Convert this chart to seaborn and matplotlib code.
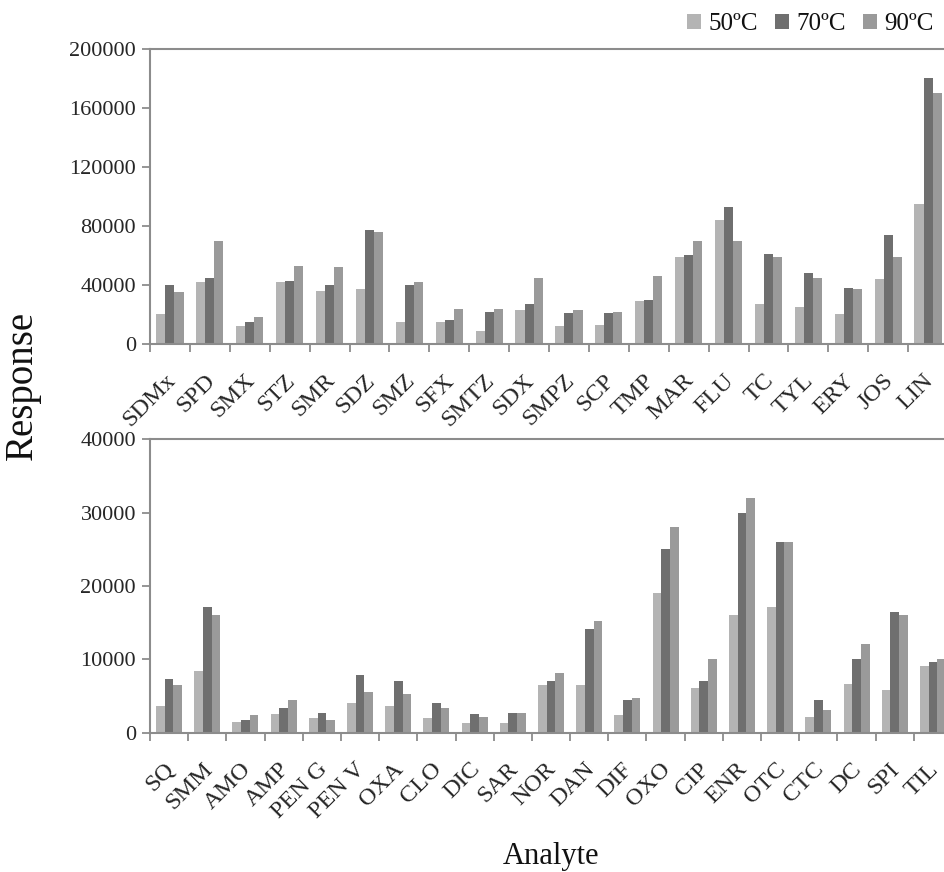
import matplotlib
matplotlib.use("Agg")
import matplotlib.pyplot as plt
import matplotlib.transforms as mtransforms
from matplotlib.patches import Patch
from matplotlib.ticker import FixedLocator, NullFormatter
import seaborn as sns
import pandas as pd

# ---------------- data ----------------
temps = ["50ºC", "70ºC", "90ºC"]

top_analytes = ["SDMx", "SPD", "SMX", "STZ", "SMR", "SDZ", "SMZ", "SFX", "SMTZ", "SDX",
                "SMPZ", "SCP", "TMP", "MAR", "FLU", "TC", "TYL", "ERY", "JOS", "LIN"]
top_50 = [20000, 42000, 12000, 42000, 36000, 37000, 15000, 15000, 9000, 23000,
          12000, 13000, 29000, 59000, 84000, 27000, 25000, 20000, 44000, 95000]
top_70 = [40000, 45000, 15000, 43000, 40000, 77000, 40000, 16000, 22000, 27000,
          21000, 21000, 30000, 60000, 93000, 61000, 48000, 38000, 74000, 180000]
top_90 = [35000, 70000, 18000, 53000, 52000, 76000, 42000, 24000, 24000, 45000,
          23000, 22000, 46000, 70000, 70000, 59000, 45000, 37000, 59000, 170000]

bot_analytes = ["SQ", "SMM", "AMO", "AMP", "PEN G", "PEN V", "OXA", "CLO", "DIC", "SAR",
                "NOR", "DAN", "DIF", "OXO", "CIP", "ENR", "OTC", "CTC", "DC", "SPI", "TIL"]
bot_50 = [3600, 8400, 1500, 2500, 2000, 4000, 3600, 2000, 1300, 1300,
          6500, 6500, 2400, 19000, 6100, 16100, 17200, 2100, 6700, 5800, 9100]
bot_70 = [7300, 17200, 1700, 3300, 2700, 7800, 7000, 4100, 2500, 2700,
          7100, 14100, 4400, 25000, 7000, 30000, 26000, 4400, 10100, 16500, 9600]
bot_90 = [6500, 16100, 2400, 4400, 1700, 5600, 5300, 3300, 2100, 2700,
          8100, 15200, 4700, 28000, 10100, 32000, 26000, 3100, 12100, 16100, 10100]

top_yticks = [0, 40000, 80000, 120000, 160000, 200000]
bot_yticks = [0, 10000, 20000, 30000, 40000]

colors = ["#b4b4b4", "#6f6f6f", "#9a9a9a"]


def long_df(analytes, series):
    rows = []
    for t, vals in zip(temps, series):
        for a, v in zip(analytes, vals):
            rows.append({"Analyte": a, "Temp": t, "Response": v})
    return pd.DataFrame(rows)


df_top = long_df(top_analytes, [top_50, top_70, top_90])
df_bot = long_df(bot_analytes, [bot_50, bot_70, bot_90])

# ---------------- style ----------------
sns.set_theme(style="white")
plt.rcParams["font.family"] = ["Liberation Serif", "DejaVu Serif"]
plt.rcParams["text.color"] = "#111111"

W, H = 944, 872
fig = plt.figure(figsize=(W / 100, H / 100), dpi=100)

# axes rectangles in pixels: (left, top, right, bottom)
def add_axes_px(l, t, r, b):
    return fig.add_axes([l / W, 1 - b / H, (r - l) / W, (b - t) / H])

ax_top = add_axes_px(150, 48.7, 948, 344)
ax_bot = add_axes_px(150, 439.3, 952, 732.7)

spine_col = "#8c8c8c"

for ax, df, analytes, yticks in [(ax_top, df_top, top_analytes, top_yticks),
                                 (ax_bot, df_bot, bot_analytes, bot_yticks)]:
    sns.barplot(data=df, x="Analyte", y="Response", hue="Temp", order=analytes,
                hue_order=temps, palette=colors, width=0.68, saturation=1,
                errorbar=None, linewidth=0, ax=ax, legend=False)
    n = len(analytes)
    ax.set_xlim(-0.5, n - 0.5)
    ax.set_ylim(yticks[0], yticks[-1])
    ax.set_yticks(yticks)
    ax.set_yticklabels([str(v) for v in yticks], fontsize=16)
    ax.set_xlabel("")
    ax.set_ylabel("")
    for s in ax.spines.values():
        s.set_color(spine_col)
        s.set_linewidth(1.5)
        s.set_visible(True)
    ax.tick_params(axis="y", direction="out", length=6, width=1.3, color=spine_col,
                   left=True, pad=4)
    # category labels (no marks) and boundary marks (minor)
    ax.set_xticks(range(n))
    ax.set_xticklabels(analytes, fontsize=17.5, rotation=45, ha="right", va="center",
                       rotation_mode="anchor")
    ax.xaxis.set_minor_locator(FixedLocator([i - 0.5 for i in range(n + 1)]))
    ax.xaxis.set_minor_formatter(NullFormatter())
    ax.tick_params(axis="x", which="major", length=0, pad=24)
    ax.tick_params(axis="x", which="minor", direction="out", length=6, width=1.3,
                   color=spine_col, bottom=True)
    offset = mtransforms.ScaledTranslation(2 / 100, 0, fig.dpi_scale_trans)
    for lab in ax.get_xticklabels():
        lab.set_transform(lab.get_transform() + offset)

# legend
handles = [Patch(facecolor=c, edgecolor="none", label=t) for c, t in zip(colors, temps)]
fig.legend(handles=handles, loc="upper right", bbox_to_anchor=(944 / W, 1 - 3 / H),
           ncol=3, frameon=False, fontsize=18, handlelength=0.55, handleheight=0.55,
           handletextpad=0.3, columnspacing=0.7, borderaxespad=0)

fig.text(22 / W, 1 - 385 / H, "Response", rotation=90, ha="center", va="center",
         fontsize=28)
fig.text(551 / W, 1 - 856 / H, "Analyte", ha="center", va="center", fontsize=22)

fig.savefig("out.png", dpi=100)
